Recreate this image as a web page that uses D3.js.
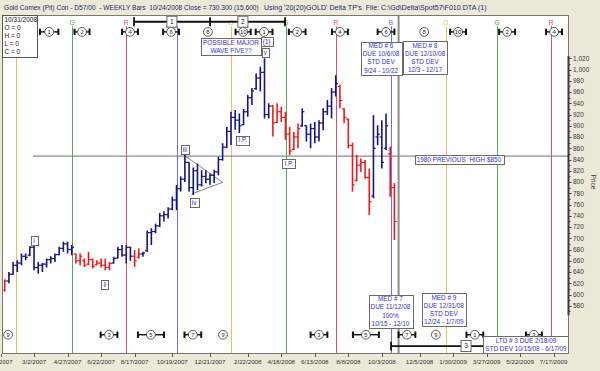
<!DOCTYPE html>
<meta charset="utf-8">
<script src="https://d3js.org/d3.v7.min.js"></script>
<style>
  body { margin: 0; background: #ece9d8; }
  text { font-family: "Liberation Sans", Arial, sans-serif; }
</style>
<div id="chart"></div>
<script>
// ---- data -------------------------------------------------------------
// weekly bars, first bar is week -1 (week 0 = 1/19/2007)
var firstBarWeek = -1;
var highs = [627,640,658,661,673,673,686,691,658,656,664,668,673,685,694,694,688,673,673,664,
             676,664,661,664,664,658,667,685,688,688,685,679,682,676,714,718,726,745,748,755,
             774,795,810,848,835,826,833,821,821,815,822,845,869,898,925,928,922,930,955,967,
             993,1005,1020,940,937,940,934,925,898,889,904,931,901,904,907,910,931,946,967,990,
             973,931,913,870,848,842,839,824,919,901,910,922,863,798];
var lows  = [605,620,635,640,652,661,668,643,637,640,648,655,658,670,676,673,670,655,652,649,
             652,646,652,648,643,643,655,664,667,655,660,649,664,667,676,688,709,720,730,735,
             750,750,783,800,783,777,786,792,798,795,798,812,838,860,866,893,887,901,916,937,
             964,961,913,913,881,905,907,875,848,857,860,898,872,860,869,872,892,919,913,952,
             931,905,860,783,801,818,806,741,771,866,824,857,774,697];
var opens = [608,624,636,652,656,668,670,684,648,652,654,662,664,671,682,690,680,672,660,660,
             654,662,653,656,652,648,656,665,680,670,684,668,666,672,678,710,712,722,740,742,
             752,768,788,805,835,790,820,795,810,805,812,818,840,862,890,915,910,902,925,950,
             966,985,995,920,935,906,925,915,885,858,880,900,900,885,895,880,905,925,935,960,
             970,930,912,865,803,830,835,808,775,880,880,860,850,790];
var closes = [624,636,652,656,668,666,684,648,652,654,662,664,671,682,690,680,684,660,668,652,
              662,650,656,652,648,655,664,680,670,684,668,660,672,674,710,712,722,740,742,752,
              768,788,805,835,790,820,795,810,805,812,818,840,862,890,915,910,900,925,950,962,
              985,995,920,935,905,925,915,885,855,880,895,925,885,895,880,905,925,935,960,975,
              945,915,865,795,830,835,808,765,860,885,835,900,790,730];
var barColors = ("r bbbbbbbbbbbbbbbb rrrrrrrrr bbbbb rr bbbbbbbbbbbbbbbbbbbbbbbbbbbbbbb " +
                 "rrrrrrr bbbbbbbbb rrrrrrrr bbbb rr").replace(/ /g, "").split("");

var xTickLabels = ["1/5/2007","3/2/2007","4/27/2007","6/22/2007","8/17/2007","10/19/2007",
  "12/21/2007","2/22/2008","4/18/2008","6/13/2008","8/8/2008","10/3/2008","12/5/2008",
  "1/30/2009","3/27/2009","5/22/2009","7/17/2009"];
var priceTicks = d3.range(580, 1021, 20);

// time cycle lines (week offsets) and their letters ("" = letter hidden)
var cycleWeeks   = [1.7, 15.06, 27.95, 40.1, 53, 66.1, 78.1, 91.2, 104.3, 116.5, 129.4];
var cycleKinds   = ["O","G","R","B","O","G","R","B","O","G","R"];
var cycleLetters = ["","G","R","","O","G","R","B","O","G","R"];
var nowWeek = 93;              // 10/31/2008
var prevHigh = 846;            // 1980 previous high line

// cycle count markers: week, number, spread (weeks)
var topMarks = [[9.6,1,2.2],[17.45,2,1.8],[28.9,4,1.9],[38.7,6,1.9],[47.5,8,0],[55.9,10,1.8],
  [60.9,1,2],[68.8,2,2],[79.0,4,1.9],[90.0,6,2],[99.1,8,0],[107.2,10,1.9],[118.9,2,1.9],[130.1,4,1.9]];
var bottomMarks = [[-0.2,9,0],[23.9,3,2],[33.9,5,3.1],[43.9,7,2],[51.1,9,0],[74.0,3,2],
  [85.2,5,3.1],[95.0,7,2],[101.9,9,0],[111.2,1,2],[125.3,3,1.9]];

// long term brackets: start, middle, end week, price level, boxes [week, label]
var topBracket = {from: 29.86, mid: 48.0, to: 65.9, p: 1085, boxes: [[38.9,"1"],[55.85,"2"]]};
var lowBracket = {from: 91.2, to: 113.6, p: 508.4, boxes: [[109.1,"3"]]};

// wave triangle (week, price)
var triangle = [[42.0,846.8],[51.0,799.4],[43.6,778.8]];

// notes: anchor week, anchor price, text lines
var notes = [
  [53.0, 1040, ["POSSIBLE MAJOR","WAVE FIVE??"]],
  [61.5, 1049, ["(1)"]],
  [61.2, 1030, ["v"]],
  [88.8, 1020, ["MED # 6","DUE 10/6/08","STD DEV","9/24 - 10/22"]],
  [99.3, 1020.5, ["MED # 8","DUE 12/10/08","STD DEV","12/3 - 12/17"]],
  [91.05, 569.8, ["MED # 7","DUE 11/12/08","100%","10/15 - 12/10"]],
  [103.8, 572.5, ["MED # 9","DUE 12/31/08","STD DEV","12/24 - 1/7/09"]],
  [123.4, 510.3, ["LTD # 3 DUE 2/18/09","STD DEV 10/15/08 - 6/17/09"]],
  [107.4, 839.4, ["1980 PREVIOUS  HIGH $850"]],
  [6.0, 695.5, ["i"]],
  [22.9, 617, ["ii"]],
  [42.0, 857, ["iii"]],
  [44.2, 763, ["iv"]],
  [55.8, 874.5, ["I.P."]],
  [66.8, 833, ["I.P."]]
];
var legendLines = ["10/31/2008","O = 0","H = 0","L = 0","C = 0"];

// ---- setup ------------------------------------------------------------
var width = 600, height = 371;
var pLeft = 2, pRight = 568, pTop = 15, pBottom = 353;

var parseDay = d3.utcParse("%Y-%m-%d");
var parseTick = d3.utcParse("%m/%d/%Y");
var base = parseDay("2007-01-19");
function wk(w) { return new Date(base.getTime() + w * 7 * 864e5); }

var x = d3.scaleUtc().domain([base, parseDay("2008-10-24")]).range([8.9, 394.4]);
var y = d3.scaleLinear().domain([496, 1097]).range([pBottom, pTop]);

var colorOf = {O: "#f2bd62", G: "#55a855", R: "#e2506c", B: "#6f6fe4"};
var barColor = {b: "#15157e", r: "#f01a1a"};
var noteColor = "#3434c4";

var svg = d3.select("#chart").append("svg")
  .attr("width", width).attr("height", height);

svg.append("rect").attr("width", width).attr("height", height).attr("fill", "#ece9d8");
svg.append("rect")
  .attr("x", pLeft + 0.5).attr("y", pTop + 0.5)
  .attr("width", pRight - pLeft).attr("height", pBottom - pTop)
  .attr("fill", "#fff").attr("stroke", "#777");

svg.append("clipPath").attr("id", "plotclip").append("rect")
  .attr("x", pLeft + 1).attr("y", pTop + 1)
  .attr("width", pRight - pLeft - 1).attr("height", pBottom - pTop - 1);

var plot = svg.append("g").attr("clip-path", "url(#plotclip)");

// title strip
svg.append("text").attr("x", 4).attr("y", 10).attr("font-size", 6.6).attr("fill", "#1e1e6e")
  .text("Gold Comex (Pit) Con - D57/00  - WEEKLY Bars  10/24/2008 Close = 730.300 (15.600)")
  .style("white-space", "pre");
svg.append("text").attr("x", 264).attr("y", 10).attr("font-size", 7.1).attr("fill", "#1e1e6e")
  .text("Using '20(20)GOLD' Delta TP's  File: C:\\Gd\\Delta\\Spot57\\F010.DTA (1)")
  .style("white-space", "pre");

// cycle lines
var cycles = cycleWeeks.map(function(w, i) {
  return {w: w, k: cycleKinds[i], c: cycleLetters[i]};
});
plot.selectAll("line.cycle").data(cycles).join("line")
  .attr("class", "cycle")
  .attr("x1", function(d) { return Math.round(x(wk(d.w))) + 0.5; })
  .attr("x2", function(d) { return Math.round(x(wk(d.w))) + 0.5; })
  .attr("y1", y(1077)).attr("y2", pBottom)
  .attr("stroke", function(d) { return colorOf[d.k]; })
  .attr("stroke-width", 1);
plot.selectAll("text.cyc").data(cycles.filter(function(d) { return d.c; })).join("text")
  .attr("class", "cyc")
  .attr("x", function(d) { return x(wk(d.w)); })
  .attr("y", y(1080))
  .attr("text-anchor", "middle").attr("font-size", 6.6)
  .attr("fill", function(d) { return colorOf[d.k]; })
  .text(function(d) { return d.c; });

// previous high line and "now" line
plot.append("line")
  .attr("x1", x(wk(5.75))).attr("x2", pRight)
  .attr("y1", y(prevHigh)).attr("y2", y(prevHigh))
  .attr("stroke", "#8a8a8a").attr("stroke-width", 1.4);
plot.append("line")
  .attr("x1", x(wk(nowWeek))).attr("x2", x(wk(nowWeek)))
  .attr("y1", pTop).attr("y2", pBottom)
  .attr("stroke", "#8c8c8c").attr("stroke-width", 2);

// triangle
plot.append("path")
  .attr("d", d3.line().x(function(d) { return x(wk(d[0])); }).y(function(d) { return y(d[1]); })(triangle))
  .attr("fill", "none").attr("stroke", "#666").attr("stroke-width", 0.8);

// OHLC bars
var bars = highs.map(function(h, i) {
  return {date: wk(firstBarWeek + i), h: h, l: lows[i], o: opens[i], c: closes[i], col: barColors[i]};
});
var barG = plot.selectAll("g.bar").data(bars).join("g").attr("class", "bar")
  .attr("stroke", function(d) { return barColor[d.col]; });
barG.append("line")
  .attr("x1", function(d) { return x(d.date); }).attr("x2", function(d) { return x(d.date); })
  .attr("y1", function(d) { return y(d.h); }).attr("y2", function(d) { return y(d.l); })
  .attr("stroke-width", 1.6);
barG.append("line")
  .attr("x1", function(d) { return x(d.date) - 2.2; }).attr("x2", function(d) { return x(d.date); })
  .attr("y1", function(d) { return y(d.o); }).attr("y2", function(d) { return y(d.o); })
  .attr("stroke-width", 1.2);
barG.append("line")
  .attr("x1", function(d) { return x(d.date); }).attr("x2", function(d) { return x(d.date) + 2.2; })
  .attr("y1", function(d) { return y(d.c); }).attr("y2", function(d) { return y(d.c); })
  .attr("stroke-width", 1.2);

// cycle count markers
function drawMarks(list, price) {
  var cy = y(price);
  var g = plot.append("g");
  var items = list.map(function(m) { return {w: m[0], n: m[1], s: m[2]}; });
  var spread = items.filter(function(d) { return d.s > 0; });
  g.selectAll("line.span").data(spread).join("line")
    .attr("x1", function(d) { return x(wk(d.w - d.s)); })
    .attr("x2", function(d) { return x(wk(d.w + d.s)); })
    .attr("y1", cy).attr("y2", cy)
    .attr("stroke", "#111").attr("stroke-width", 1.4);
  [-1, 1].forEach(function(side) {
    g.selectAll(null).data(spread).join("line")
      .attr("x1", function(d) { return x(wk(d.w + side * d.s)); })
      .attr("x2", function(d) { return x(wk(d.w + side * d.s)); })
      .attr("y1", cy - 3.2).attr("y2", cy + 3.2)
      .attr("stroke", "#111").attr("stroke-width", 2);
  });
  g.selectAll("circle").data(items).join("circle")
    .attr("cx", function(d) { return x(wk(d.w)); }).attr("cy", cy).attr("r", 4.4)
    .attr("fill", "#fff").attr("stroke", "#333").attr("stroke-width", 0.8);
  g.selectAll("text").data(items).join("text")
    .attr("x", function(d) { return x(wk(d.w)); }).attr("y", cy + 2.1)
    .attr("text-anchor", "middle").attr("font-size", 5.8).attr("fill", "#222")
    .text(function(d) { return d.n; });
}
drawMarks(topMarks, 1067);
drawMarks(bottomMarks, 528.5);

// long term brackets
function drawBracket(b, ends) {
  var cy = y(b.p);
  plot.append("line")
    .attr("x1", x(wk(b.from))).attr("x2", x(wk(b.to)))
    .attr("y1", cy).attr("y2", cy).attr("stroke", "#111").attr("stroke-width", 1.8);
  plot.selectAll(null).data(ends).join("line")
    .attr("x1", function(w) { return x(wk(w)); }).attr("x2", function(w) { return x(wk(w)); })
    .attr("y1", cy - 4.4).attr("y2", cy + 4.4)
    .attr("stroke", "#111").attr("stroke-width", 1.8);
  var bx = plot.selectAll(null).data(b.boxes).join("g");
  bx.append("rect")
    .attr("x", function(d) { return x(wk(d[0])) - 5; }).attr("y", cy - 5.5)
    .attr("width", 10).attr("height", 11)
    .attr("fill", "#fff").attr("stroke", "#666");
  bx.append("text")
    .attr("x", function(d) { return x(wk(d[0])); }).attr("y", cy + 2.3)
    .attr("text-anchor", "middle").attr("font-size", 6.6).attr("fill", "#222")
    .text(function(d) { return d[1]; });
}
drawBracket(topBracket, [topBracket.from, topBracket.mid, topBracket.to]);
drawBracket(lowBracket, [lowBracket.from]);

// note boxes
var lineH = 8.1;
notes.forEach(function(n) {
  var cx = x(wk(n[0])), cy = y(n[1]);
  var g = plot.append("g");
  var rect = g.append("rect");
  var top = cy - (n[2].length * lineH + 1) / 2;
  var tw = 0;
  g.selectAll("text").data(n[2]).join("text")
    .attr("x", cx)
    .attr("y", function(d, i) { return top + 6.6 + i * lineH; })
    .attr("text-anchor", "middle").attr("font-size", 6.4).attr("fill", noteColor)
    .style("white-space", "pre")
    .text(function(d) { return d; })
    .each(function() { tw = Math.max(tw, this.getComputedTextLength()); });
  var bw = Math.max(tw + 4, 7);
  rect.attr("x", Math.round(cx - bw / 2) + 0.5).attr("y", Math.round(top) + 0.5)
    .attr("width", Math.round(bw)).attr("height", Math.round(n[2].length * lineH + 1))
    .attr("fill", "#fff").attr("stroke", "#6a6a6a");
});

// legend box
var leg = svg.append("g");
leg.append("rect").attr("x", 2.5).attr("y", 15.5).attr("width", 35).attr("height", 42)
  .attr("fill", "#fff").attr("stroke", "#555");
leg.selectAll("text").data(legendLines).join("text")
  .attr("x", 4.5).attr("y", function(d, i) { return 22 + i * 8; })
  .attr("font-size", 6.5).attr("fill", "#111")
  .text(function(d) { return d; });

// price axis on the right
svg.append("line")
  .attr("x1", pRight + 0.5).attr("x2", pRight + 0.5)
  .attr("y1", y(1024)).attr("y2", y(563))
  .attr("stroke", "#3a3a3a").attr("stroke-width", 2);
svg.selectAll("line.minor").data(d3.range(570, 1021, 10)).join("line")
  .attr("class", "minor")
  .attr("x1", pRight + 1).attr("x2", function(d) { return pRight + (d % 20 ? 2.5 : 3.5); })
  .attr("y1", function(d) { return Math.round(y(d)) + 0.5; })
  .attr("y2", function(d) { return Math.round(y(d)) + 0.5; })
  .attr("stroke", "#444");
svg.selectAll("text.ptick").data(priceTicks).join("text")
  .attr("class", "ptick")
  .attr("x", pRight + 5).attr("y", function(d) { return y(d) + 2.3; })
  .attr("font-size", 6.5).attr("fill", "#3a3a3a")
  .text(d3.format(","));
svg.append("text")
  .attr("transform", "translate(591," + y(800) + ") rotate(90)")
  .attr("text-anchor", "middle").attr("font-size", 6.6).attr("fill", "#3a3a3a")
  .text("Price");

// date axis
var xTicks = xTickLabels.map(function(s) { return {s: s, d: parseTick(s)}; });
svg.selectAll("line.xtick").data(xTicks).join("line")
  .attr("class", "xtick")
  .attr("x1", function(d) { return Math.round(x(d.d)) + 0.5; })
  .attr("x2", function(d) { return Math.round(x(d.d)) + 0.5; })
  .attr("y1", pBottom + 1).attr("y2", pBottom + 4)
  .attr("stroke", "#555");
svg.selectAll("text.xlab").data(xTicks).join("text")
  .attr("class", "xlab")
  .attr("x", function(d) { return x(d.d); }).attr("y", pBottom + 11)
  .attr("text-anchor", "middle").attr("font-size", 6.2).attr("fill", "#333")
  .text(function(d) { return d.s; });
</script>
